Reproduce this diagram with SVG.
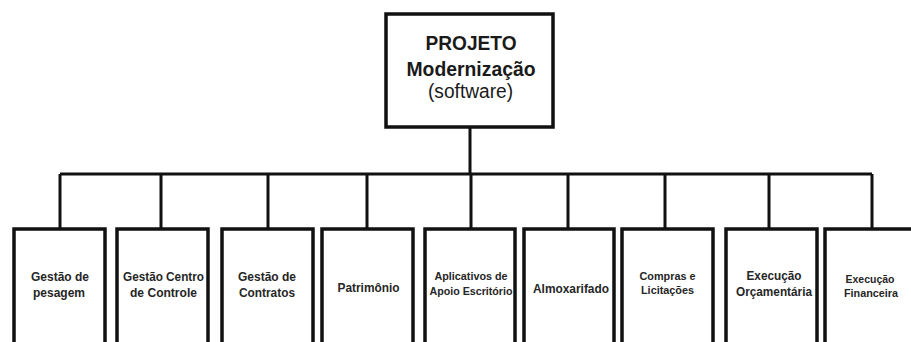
<svg xmlns="http://www.w3.org/2000/svg" width="911" height="342" viewBox="0 0 911 342">
<style>
.box{fill:#fff;stroke:#111;stroke-width:3.5}
.wire{fill:none;stroke:#111;stroke-width:3}
.t{font-family:"Liberation Sans",Arial,sans-serif;font-weight:bold;fill:#262626;text-anchor:middle}
.top{font-family:"Liberation Sans",Arial,sans-serif;fill:#1a1a1a;text-anchor:middle;font-size:20px}
</style>
<rect width="911" height="342" fill="#fff"/>
<g id="connectors">
<path class="wire" d="M470,127 V174 M60,174 H872 M60,174 V229 M161,174 V229 M268,174 V229 M367,174 V229 M471,174 V229 M568,174 V229 M665,174 V229 M769,174 V229 M872,174 V229"/>
</g>
<g id="root">
<rect class="box" x="386" y="14" width="167" height="113"/>
<text class="top" x="471" y="50" font-weight="bold" textLength="91" lengthAdjust="spacingAndGlyphs">PROJETO</text>
<text class="top" x="471" y="75.5" font-weight="bold" textLength="129" lengthAdjust="spacingAndGlyphs">Modernização</text>
<text class="top" x="470.5" y="98" textLength="85" lengthAdjust="spacingAndGlyphs">(software)</text>
</g>
<g id="n1">
<rect class="box" x="14" y="229" width="91" height="130"/>
<text class="t" x="60" y="281" font-size="12.8" textLength="58" lengthAdjust="spacingAndGlyphs">Gestão de</text>
<text class="t" x="59" y="297" font-size="12.8" textLength="52" lengthAdjust="spacingAndGlyphs">pesagem</text>
</g>
<g id="n2">
<rect class="box" x="117" y="229" width="91" height="130"/>
<text class="t" x="163.5" y="281" font-size="12.8" textLength="81" lengthAdjust="spacingAndGlyphs">Gestão Centro</text>
<text class="t" x="163.5" y="297" font-size="12.8" textLength="67" lengthAdjust="spacingAndGlyphs">de Controle</text>
</g>
<g id="n3">
<rect class="box" x="222" y="229" width="91" height="130"/>
<text class="t" x="267" y="281" font-size="12.8" textLength="58" lengthAdjust="spacingAndGlyphs">Gestão de</text>
<text class="t" x="267" y="297" font-size="12.8" textLength="56" lengthAdjust="spacingAndGlyphs">Contratos</text>
</g>
<g id="n4">
<rect class="box" x="322" y="229" width="91" height="130"/>
<text class="t" x="368.5" y="292" font-size="12.8" textLength="62" lengthAdjust="spacingAndGlyphs">Patrimônio</text>
</g>
<g id="n5">
<rect class="box" x="425" y="229" width="90" height="130"/>
<text class="t" x="471" y="280" font-size="11.8" textLength="73" lengthAdjust="spacingAndGlyphs">Aplicativos de</text>
<text class="t" x="471" y="295" font-size="11.8" textLength="83" lengthAdjust="spacingAndGlyphs">Apoio Escritório</text>
</g>
<g id="n6">
<rect class="box" x="524" y="229" width="90" height="130"/>
<text class="t" x="571" y="293" font-size="12.8" textLength="76" lengthAdjust="spacingAndGlyphs">Almoxarifado</text>
</g>
<g id="n7">
<rect class="box" x="622" y="229" width="91" height="130"/>
<text class="t" x="667.5" y="280" font-size="11.8" textLength="56" lengthAdjust="spacingAndGlyphs">Compras e</text>
<text class="t" x="667.5" y="294" font-size="11.8" textLength="53" lengthAdjust="spacingAndGlyphs">Licitações</text>
</g>
<g id="n8">
<rect class="box" x="726" y="229" width="91" height="130"/>
<text class="t" x="774" y="280" font-size="12.8" textLength="55" lengthAdjust="spacingAndGlyphs">Execução</text>
<text class="t" x="774" y="296" font-size="12.8" textLength="76" lengthAdjust="spacingAndGlyphs">Orçamentária</text>
</g>
<g id="n9">
<rect class="box" x="825" y="229" width="93" height="130"/>
<text class="t" x="870" y="283" font-size="11.6" textLength="49" lengthAdjust="spacingAndGlyphs">Execução</text>
<text class="t" x="871" y="297" font-size="11.6" textLength="54" lengthAdjust="spacingAndGlyphs">Financeira</text>
</g>
</svg>
